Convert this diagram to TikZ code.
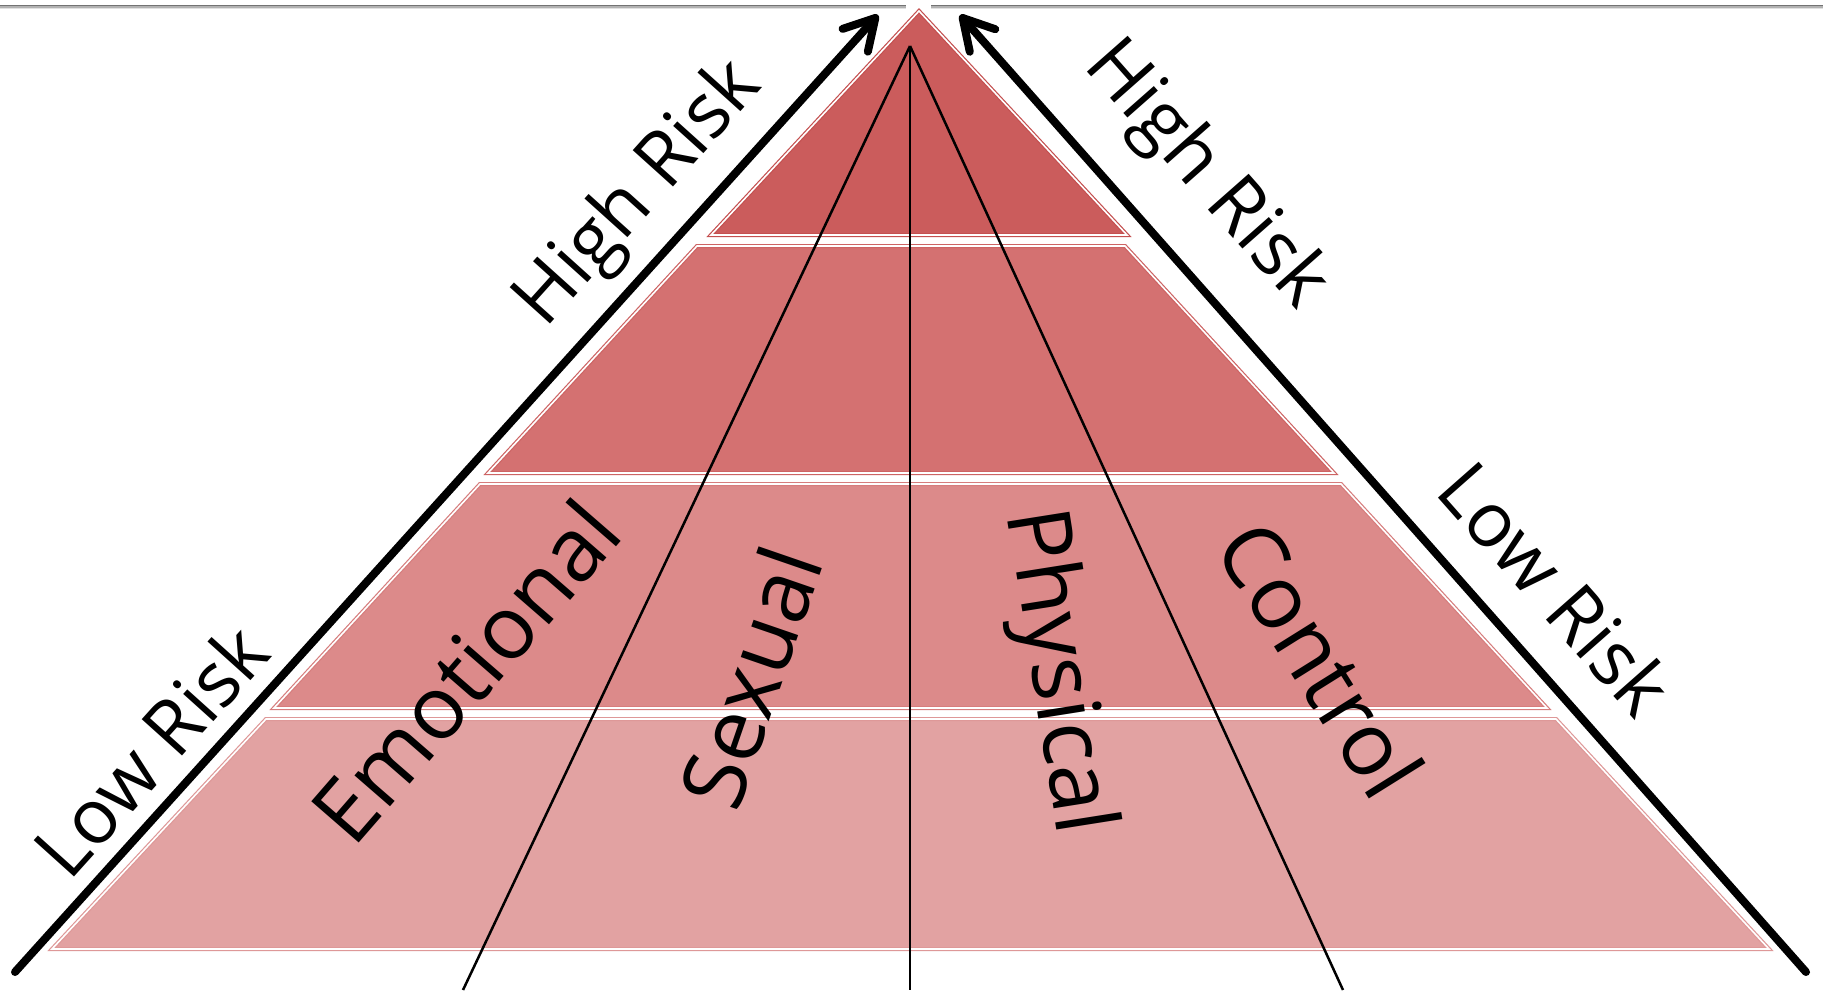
\documentclass[tikz,border=0pt]{standalone}
\usepackage{fontspec}
\setmainfont{Open Sans}
\usetikzlibrary{arrows.meta}
\definecolor{bandA}{RGB}{203,92,92}
\definecolor{bandB}{RGB}{212,113,113}
\definecolor{bandC}{RGB}{220,138,138}
\definecolor{bandD}{RGB}{226,162,162}
\definecolor{edgeA}{RGB}{196,80,80}
\definecolor{edgeB}{RGB}{205,100,100}
\definecolor{edgeC}{RGB}{214,125,125}
\definecolor{edgeD}{RGB}{222,152,152}
\tikzset{
  bandfill/.style={line width=4pt, draw=#1, line join=miter},
  bandline/.style={line width=1.6pt, draw=white, line join=miter},
  risklbl/.style={font=\fontsize{76}{80}\selectfont, inner sep=0pt},
  catlbl/.style={font=\fontsize{88}{92}\selectfont, inner sep=0pt},
  riskarrow/.style={line width=8pt, line cap=round, -{Straight Barb[length=30pt,width=34pt,round]}},
  spoke/.style={line width=2.5pt}
}
\begin{document}
\begin{tikzpicture}[x=1pt,y=-1pt]
\useasboundingbox (0,0) rectangle (1823,993);
\fill[white] (0,0) rectangle (1823,993);
% top gray rule
\draw[line width=1.5pt, black!55] (0,5.5) -- (906,5.5) (931,5.5) -- (1823,5.5);
\draw[line width=1.5pt, black!30] (0,7) -- (906,7) (931,7) -- (1823,7);
\draw[line width=1.5pt, black!12] (0,8.5) -- (906,8.5) (931,8.5) -- (1823,8.5);
% bands
\draw[bandfill=edgeA, fill=bandA] (919,11) -- (1127,235) -- (711,235) -- cycle;
\draw[bandline] (919,11) -- (1127,235) -- (711,235) -- cycle;
\draw[bandfill=edgeB, fill=bandB] (697,246) -- (1125,246) -- (1334,473) -- (488,473) -- cycle;
\draw[bandline] (697,246) -- (1125,246) -- (1334,473) -- (488,473) -- cycle;
\draw[bandfill=edgeC, fill=bandC] (480,484) -- (1341,484) -- (1547,708) -- (274,708) -- cycle;
\draw[bandline] (480,484) -- (1341,484) -- (1547,708) -- (274,708) -- cycle;
\draw[bandfill=edgeD, fill=bandD] (266,719) -- (1556,719) -- (1769,949) -- (52,949) -- cycle;
\draw[bandline] (266,719) -- (1556,719) -- (1769,949) -- (52,949) -- cycle;
% spokes
\coordinate (apex) at (910,46);
\coordinate (sl) at (463,990);
\coordinate (sm) at (910,990);
\coordinate (sr) at (1343,990);
\draw[spoke] (apex) -- (sl);
\draw[spoke] (apex) -- (sm);
\draw[spoke] (apex) -- (sr);
% risk arrows
\coordinate (la0) at (15,972);
\coordinate (la1) at (878,15);
\coordinate (ra0) at (1806,972);
\coordinate (ra1) at (960,15);
\draw[riskarrow] (la0) -- (la1);
\draw[riskarrow] (ra0) -- (ra1);
% labels
\node[risklbl, rotate=48] (lhigh) at (640,195) {High Risk};
\node[risklbl, rotate=48] (llow) at (150,750) {Low Risk};
\node[risklbl, rotate=-48.6] (rhigh) at (1205,176) {High Risk};
\node[risklbl, rotate=-48.6] (rlow) at (1556,588) {Low Risk};
\node[catlbl, rotate=49] (emo) at (465,671) {Emotional};
\node[catlbl, rotate=71] (sex) at (750,677) {Sexual};
\node[catlbl, rotate=-81] (phys) at (1055,672) {Physical};
\node[catlbl, rotate=-58] (ctrl) at (1321,659) {Control};
\end{tikzpicture}
\end{document}
